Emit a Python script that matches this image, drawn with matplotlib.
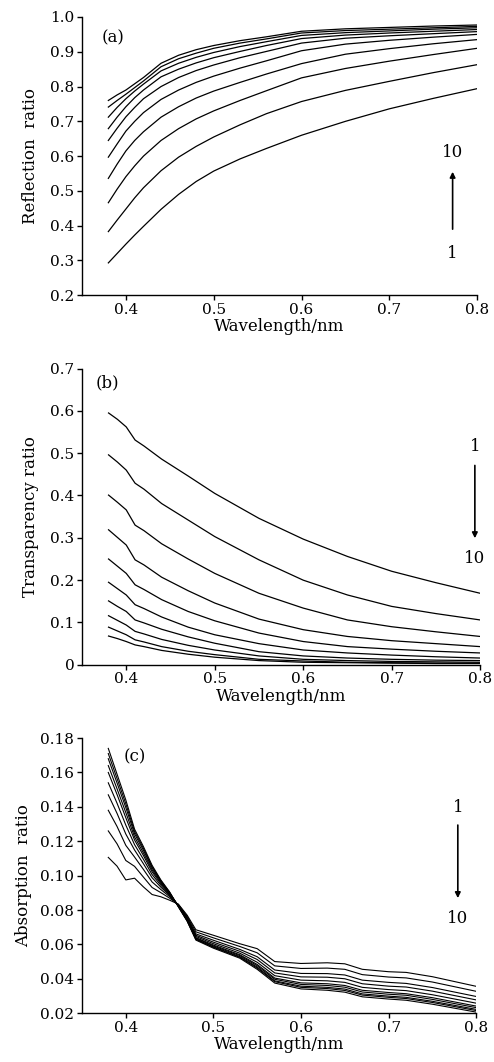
import matplotlib
matplotlib.use("Agg")
import matplotlib.pyplot as plt
import matplotlib.ticker as ticker

plt.rcParams['font.family'] = ['DejaVu Serif']
plt.rcParams['font.size'] = 11

# ---- (a) reflection ratio, curves 1..10 ----
wl_a = [0.38, 0.39, 0.40, 0.41, 0.42, 0.44, 0.46, 0.48, 0.50, 0.53, 0.56, 0.60,
        0.65, 0.70, 0.75, 0.80]
refl = [
    [0.293, 0.320, 0.347, 0.373, 0.398, 0.447, 0.490, 0.527, 0.557, 0.592, 0.622, 0.660, 0.700, 0.736, 0.766, 0.794],
    [0.383, 0.416, 0.448, 0.480, 0.509, 0.558, 0.597, 0.628, 0.655, 0.690, 0.722, 0.757, 0.789, 0.815, 0.840, 0.863],
    [0.466, 0.505, 0.541, 0.572, 0.600, 0.645, 0.679, 0.707, 0.730, 0.760, 0.788, 0.825, 0.852, 0.873, 0.892, 0.910],
    [0.536, 0.577, 0.615, 0.645, 0.670, 0.712, 0.742, 0.767, 0.787, 0.812, 0.836, 0.866, 0.893, 0.909, 0.923, 0.935],
    [0.597, 0.635, 0.672, 0.700, 0.725, 0.763, 0.790, 0.812, 0.830, 0.853, 0.874, 0.903, 0.922, 0.933, 0.942, 0.950],
    [0.645, 0.680, 0.713, 0.740, 0.765, 0.800, 0.826, 0.846, 0.862, 0.883, 0.901, 0.925, 0.939, 0.946, 0.952, 0.958],
    [0.679, 0.712, 0.742, 0.768, 0.790, 0.828, 0.850, 0.868, 0.883, 0.901, 0.918, 0.938, 0.948, 0.954, 0.959, 0.964],
    [0.712, 0.740, 0.765, 0.787, 0.807, 0.845, 0.867, 0.884, 0.898, 0.915, 0.929, 0.947, 0.955, 0.960, 0.965, 0.969],
    [0.741, 0.760, 0.778, 0.797, 0.816, 0.857, 0.880, 0.896, 0.910, 0.925, 0.937, 0.954, 0.961, 0.965, 0.969, 0.973],
    [0.760, 0.776, 0.790, 0.808, 0.826, 0.867, 0.890, 0.906, 0.918, 0.932, 0.943, 0.959, 0.966, 0.970, 0.974, 0.977],
]

# ---- (b) transparency ratio ----
wl_b = [0.38, 0.39, 0.40, 0.41, 0.42, 0.44, 0.47, 0.50, 0.55, 0.60, 0.65, 0.70, 0.75, 0.80]
trans = [
    [0.595, 0.580, 0.562, 0.531, 0.517, 0.486, 0.446, 0.405, 0.346, 0.297, 0.256, 0.221, 0.194, 0.169],
    [0.496, 0.479, 0.460, 0.429, 0.415, 0.381, 0.342, 0.303, 0.248, 0.200, 0.165, 0.138, 0.121, 0.106],
    [0.401, 0.384, 0.366, 0.330, 0.317, 0.286, 0.250, 0.216, 0.169, 0.134, 0.106, 0.090, 0.078, 0.067],
    [0.319, 0.301, 0.283, 0.248, 0.236, 0.207, 0.175, 0.146, 0.108, 0.083, 0.067, 0.057, 0.050, 0.043],
    [0.250, 0.233, 0.216, 0.189, 0.178, 0.154, 0.126, 0.104, 0.075, 0.055, 0.043, 0.037, 0.032, 0.028],
    [0.195, 0.180, 0.165, 0.142, 0.133, 0.113, 0.089, 0.071, 0.050, 0.035, 0.028, 0.023, 0.019, 0.016],
    [0.151, 0.138, 0.126, 0.106, 0.099, 0.084, 0.066, 0.051, 0.031, 0.021, 0.016, 0.013, 0.011, 0.010],
    [0.116, 0.105, 0.094, 0.079, 0.073, 0.060, 0.046, 0.035, 0.021, 0.013, 0.010, 0.008, 0.007, 0.006],
    [0.089, 0.080, 0.071, 0.059, 0.054, 0.043, 0.032, 0.024, 0.013, 0.009, 0.006, 0.005, 0.004, 0.004],
    [0.068, 0.062, 0.055, 0.047, 0.043, 0.034, 0.025, 0.018, 0.010, 0.006, 0.005, 0.004, 0.003, 0.003],
]

# ---- (c) absorption ratio ----
wl_c = [0.38, 0.39, 0.40, 0.41, 0.42, 0.43, 0.44, 0.45, 0.46, 0.47, 0.48, 0.50,
        0.53, 0.55, 0.57, 0.60, 0.63, 0.65, 0.67, 0.70, 0.72, 0.75, 0.80]
absorb = [
    [0.1106, 0.1055, 0.0975, 0.0985, 0.0935, 0.0890, 0.0877, 0.0857, 0.0834, 0.0770, 0.0685, 0.0653,
     0.0604, 0.0575, 0.0500, 0.0489, 0.0493, 0.0487, 0.0455, 0.0441, 0.0437, 0.0412, 0.0356],
    [0.1260, 0.1185, 0.1088, 0.1054, 0.0992, 0.0931, 0.0901, 0.0869, 0.0832, 0.0763, 0.0673, 0.0638,
     0.0588, 0.0551, 0.0475, 0.0460, 0.0462, 0.0455, 0.0424, 0.0410, 0.0405, 0.0381, 0.0327],
    [0.1380, 0.1286, 0.1176, 0.1108, 0.1037, 0.0963, 0.0919, 0.0878, 0.0830, 0.0756, 0.0661, 0.0624,
     0.0571, 0.0528, 0.0451, 0.0431, 0.0430, 0.0422, 0.0392, 0.0379, 0.0373, 0.0349, 0.0297],
    [0.1470, 0.1362, 0.1242, 0.1149, 0.1070, 0.0988, 0.0933, 0.0885, 0.0828, 0.0752, 0.0653, 0.0613,
     0.0560, 0.0512, 0.0434, 0.0411, 0.0409, 0.0400, 0.0371, 0.0357, 0.0352, 0.0328, 0.0277],
    [0.1540, 0.1421, 0.1294, 0.1180, 0.1096, 0.1006, 0.0944, 0.0890, 0.0826, 0.0747, 0.0646, 0.0604,
     0.0549, 0.0496, 0.0418, 0.0392, 0.0388, 0.0379, 0.0350, 0.0337, 0.0331, 0.0307, 0.0258],
    [0.1600, 0.1472, 0.1337, 0.1207, 0.1118, 0.1022, 0.0953, 0.0894, 0.0824, 0.0743, 0.0639, 0.0596,
     0.0540, 0.0483, 0.0404, 0.0376, 0.0371, 0.0361, 0.0333, 0.0320, 0.0313, 0.0290, 0.0241],
    [0.1640, 0.1505, 0.1367, 0.1225, 0.1133, 0.1033, 0.0960, 0.0897, 0.0823, 0.0741, 0.0636, 0.0591,
     0.0535, 0.0476, 0.0397, 0.0367, 0.0361, 0.0351, 0.0323, 0.0310, 0.0304, 0.0280, 0.0232],
    [0.1680, 0.1539, 0.1396, 0.1243, 0.1148, 0.1044, 0.0966, 0.0900, 0.0821, 0.0739, 0.0631, 0.0586,
     0.0529, 0.0468, 0.0388, 0.0357, 0.0350, 0.0340, 0.0312, 0.0299, 0.0292, 0.0269, 0.0222],
    [0.1710, 0.1565, 0.1418, 0.1257, 0.1159, 0.1052, 0.0970, 0.0903, 0.0820, 0.0737, 0.0629, 0.0583,
     0.0525, 0.0462, 0.0383, 0.0350, 0.0343, 0.0332, 0.0305, 0.0292, 0.0285, 0.0262, 0.0215],
    [0.1740, 0.1590, 0.1440, 0.1270, 0.1170, 0.1060, 0.0975, 0.0905, 0.0818, 0.0735, 0.0625, 0.0578,
     0.0520, 0.0455, 0.0375, 0.0341, 0.0333, 0.0322, 0.0295, 0.0282, 0.0275, 0.0252, 0.0206],
]


def style_axes(ax, ylim, ymajor, yfmt):
    ax.set_xlim(0.35, 0.8)
    ax.set_ylim(*ylim)
    ax.xaxis.set_major_locator(ticker.FixedLocator([0.4, 0.5, 0.6, 0.7, 0.8]))
    ax.xaxis.set_major_formatter(ticker.FormatStrFormatter('%.1f'))
    ax.yaxis.set_major_locator(ticker.MultipleLocator(ymajor))
    ax.yaxis.set_major_formatter(yfmt)
    ax.spines['top'].set_visible(False)
    ax.spines['right'].set_visible(False)
    for s in ('left', 'bottom'):
        ax.spines[s].set_linewidth(1.0)
    ax.tick_params(direction='out', length=3.5, width=1.0, pad=2, labelsize=11)
    ax.set_xlabel('Wavelength/nm', fontsize=12, labelpad=1)


def arrow(ax, x, y_from, y_to, top_text, top_y, bot_text, bot_y):
    ax.annotate('', xy=(x, y_to), xytext=(x, y_from),
                arrowprops=dict(arrowstyle='-|>', color='black', lw=1.2,
                                mutation_scale=8, shrinkA=0, shrinkB=0))
    ax.text(x, top_y, top_text, ha='center', va='center', fontsize=12)
    ax.text(x, bot_y, bot_text, ha='center', va='center', fontsize=12)


fig = plt.figure(figsize=(4.94, 10.62), dpi=100)
ax_a = fig.add_axes([0.166, 0.722, 0.800, 0.262])
ax_b = fig.add_axes([0.166, 0.374, 0.806, 0.279])
ax_c = fig.add_axes([0.166, 0.046, 0.798, 0.259])

for ys in refl:
    ax_a.plot(wl_a, ys, color='black', lw=0.9)
style_axes(ax_a, (0.2, 1.0), 0.1, ticker.FormatStrFormatter('%.1f'))
ax_a.set_ylabel('Reflection  ratio', fontsize=12, labelpad=8)
ax_a.text(0.078, 0.924, '(a)', transform=ax_a.transAxes, ha='center', va='center', fontsize=12)
arrow(ax_a, 0.772, 0.39, 0.555, '10', 0.611, '1', 0.32)

for ys in trans:
    ax_b.plot(wl_b, ys, color='black', lw=0.9)
style_axes(ax_b, (0.0, 0.7), 0.1,
           ticker.FuncFormatter(lambda v, p: '0' if abs(v) < 1e-9 else '%.1f' % v))
ax_b.set_ylabel('Transparency ratio', fontsize=12, labelpad=8)
ax_b.text(0.065, 0.95, '(b)', transform=ax_b.transAxes, ha='center', va='center', fontsize=12)
arrow(ax_b, 0.794, 0.471, 0.299, '1', 0.516, '10', 0.252)

for ys in absorb:
    ax_c.plot(wl_c, ys, color='black', lw=0.8)
style_axes(ax_c, (0.02, 0.18), 0.02, ticker.FormatStrFormatter('%.2f'))
ax_c.set_ylabel('Absorption  ratio', fontsize=12, labelpad=6)
ax_c.text(0.135, 0.93, '(c)', transform=ax_c.transAxes, ha='center', va='center', fontsize=12)
arrow(ax_c, 0.779, 0.1294, 0.0869, '1', 0.1399, '10', 0.0753)

fig.savefig('out.png', dpi=100)
